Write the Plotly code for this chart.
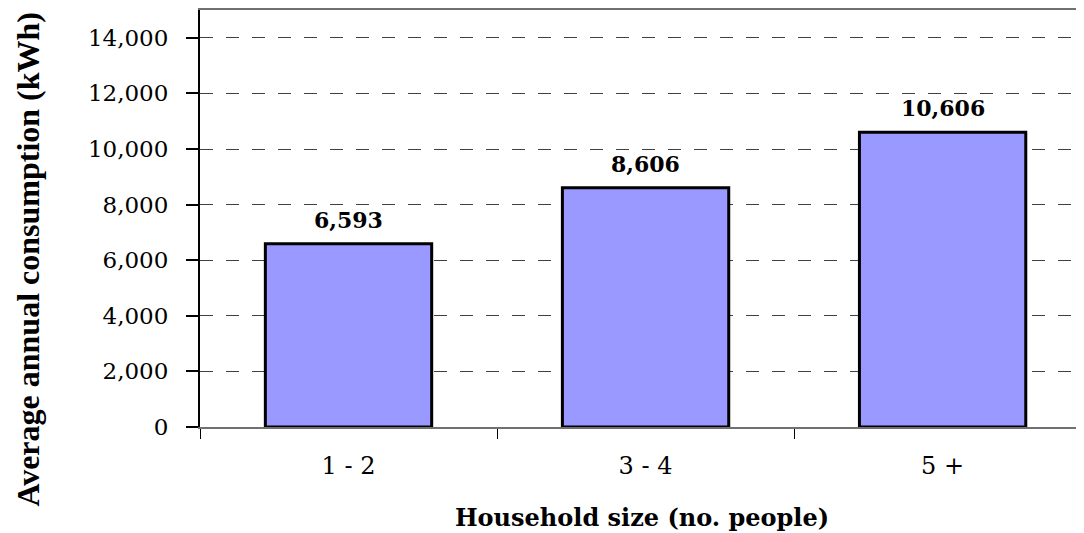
import plotly.graph_objects as go

# household size categories and average annual consumption (kWh)
household_sizes = ["1 - 2", "3 - 4", "5 +"]
avg_consumption = [6593, 8606, 10606]
bar_labels = ["6,593", "8,606", "10,606"]

fig = go.Figure()
fig.add_trace(go.Bar(
    x=household_sizes,
    y=avg_consumption,
    marker=dict(color="#9999FF", line=dict(color="black", width=3)),
))

# value labels above the bars
for cat, val, lab in zip(household_sizes, avg_consumption, bar_labels):
    fig.add_annotation(x=cat, y=val, text=lab, showarrow=False,
                       yanchor="bottom", yshift=9,
                       font=dict(family="DejaVu Serif", size=22, color="black", weight="bold"))

# y title is placed by hand, it sits lower than the plot centre in the original
fig.add_annotation(text="Average annual consumption (kWh)", textangle=-90,
                   xref="paper", yref="paper", x=-0.195, y=0.403,
                   xanchor="center", yanchor="middle", showarrow=False,
                   font=dict(family="Liberation Serif", size=32, color="black", weight="bold"))

# page body has an 8px margin, so the figure is a bit smaller than the window
fig.update_layout(
    width=1076, height=525,
    margin=dict(l=192, r=0, t=0, b=106),
    plot_bgcolor="white", paper_bgcolor="white",
    showlegend=False,
    bargap=0.44,
    xaxis=dict(
        range=[-0.5, 2.476],
        showline=True, linecolor="#707070", linewidth=2, mirror=True,
        ticks="outside", tickson="boundaries", ticklen=10, tickcolor="black", tickwidth=1,
        tickfont=dict(family="DejaVu Serif", size=24, color="black"),
        ticklabelstandoff=16,
        title=dict(text="Household size (no. people)", standoff=30,
                   font=dict(family="DejaVu Serif", size=24, color="black", weight="bold")),
        showgrid=False,
    ),
    yaxis=dict(
        range=[0, 15000],
        tickvals=[0, 2000, 4000, 6000, 8000, 10000, 12000, 14000],
        tickformat=",d",
        showline=True, linecolor="black", linewidth=2,
        ticks="outside", ticklen=12, tickcolor="black", tickwidth=2,
        tickfont=dict(family="DejaVu Serif", size=23, color="black"),
        ticklabelstandoff=13,
        showgrid=True, gridcolor="#404040", gridwidth=1, griddash="13px,13px",
        zeroline=False,
    ),
)

fig.write_html("out.html")
